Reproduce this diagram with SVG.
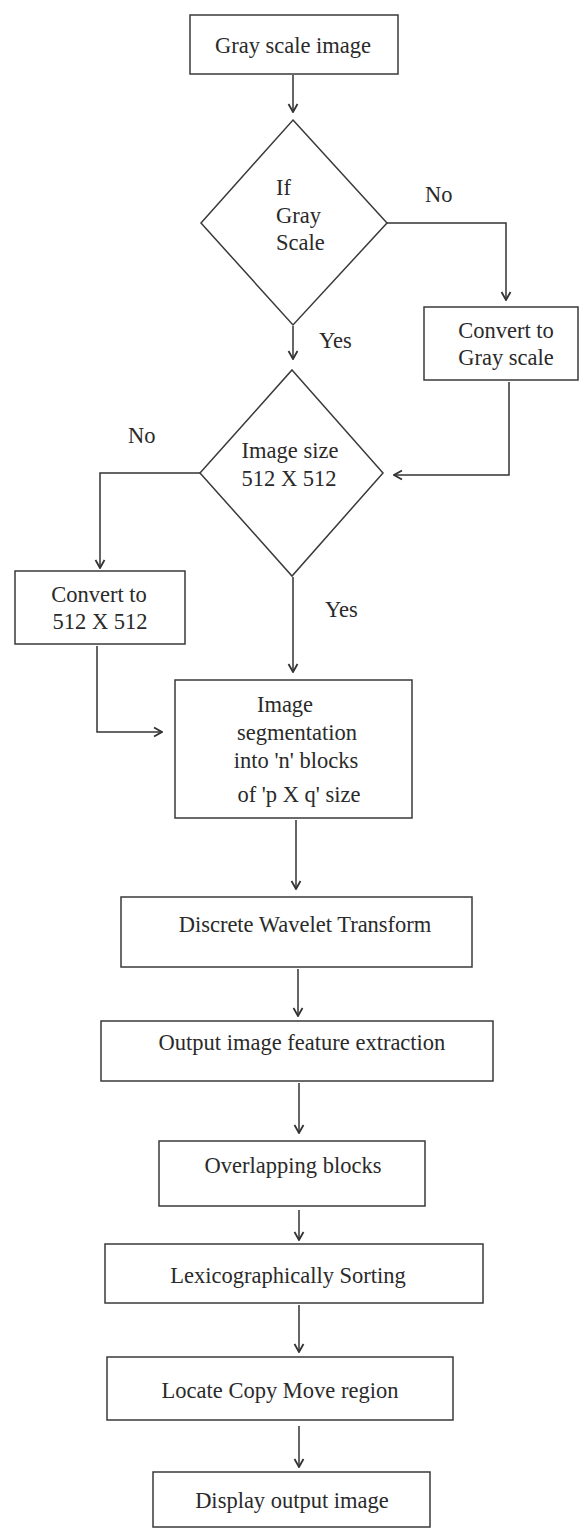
<svg xmlns="http://www.w3.org/2000/svg" width="584" height="1531" viewBox="0 0 584 1531">
<style>
.box{fill:#fff;stroke:#3a3a3a;stroke-width:1.5}
.t{font-family:'Liberation Serif','DejaVu Serif',serif;font-size:22.5px;fill:#2a2a2a;text-anchor:middle}
.ts{font-family:'Liberation Serif','DejaVu Serif',serif;font-size:22.5px;fill:#2a2a2a;text-anchor:start}
.c{fill:none;stroke:#333;stroke-width:1.5}
</style>
<defs>
<marker id="ah" markerUnits="userSpaceOnUse" markerWidth="10" markerHeight="12" viewBox="0 0 10 12" refX="9" refY="6" orient="auto">
<path d="M1,1.5 L9,6 L1,10.5" fill="none" stroke="#333" stroke-width="1.8"/>
</marker>
</defs>
<rect width="584" height="1531" fill="#fff"/>
<g id="connectors">
<path class="c" d="M293,75 V112" marker-end="url(#ah)"/>
<path class="c" d="M387,223 H506 V300" marker-end="url(#ah)"/>
<path class="c" d="M293,326 V359" marker-end="url(#ah)"/>
<path class="c" d="M509,382 V475 H394" marker-end="url(#ah)"/>
<path class="c" d="M200,473 H100 V568" marker-end="url(#ah)"/>
<path class="c" d="M293,577 V672" marker-end="url(#ah)"/>
<path class="c" d="M97,646 V732 H162" marker-end="url(#ah)"/>
<path class="c" d="M296,820 V889" marker-end="url(#ah)"/>
<path class="c" d="M298,969 V1016" marker-end="url(#ah)"/>
<path class="c" d="M299,1083 V1133" marker-end="url(#ah)"/>
<path class="c" d="M299,1210 V1240" marker-end="url(#ah)"/>
<path class="c" d="M299,1305 V1352" marker-end="url(#ah)"/>
<path class="c" d="M299,1426 V1467" marker-end="url(#ah)"/>
<text class="ts" x="425" y="202">No</text>
<text class="ts" x="319" y="348">Yes</text>
<text class="ts" x="128" y="443">No</text>
<text class="ts" x="325" y="617">Yes</text>
</g>
<g id="n-gray-image">
<rect class="box" x="190" y="15" width="208" height="59"/>
<text class="t" x="293" y="53">Gray scale image</text>
</g>
<g id="n-if-gray">
<polygon class="box" points="293,120 387,223 293,325 201,223"/>
<text class="ts" x="276" y="195">If</text>
<text class="ts" x="276" y="223">Gray</text>
<text class="ts" x="276" y="250">Scale</text>
</g>
<g id="n-convert-gray">
<rect class="box" x="424" y="307" width="154" height="73"/>
<text class="t" x="506" y="338">Convert to</text>
<text class="t" x="506" y="365">Gray scale</text>
</g>
<g id="n-size">
<polygon class="box" points="292,370 383,473 292,576 200,473"/>
<text class="t" x="290" y="458">Image size</text>
<text class="t" x="289" y="486">512 X 512</text>
</g>
<g id="n-convert-512">
<rect class="box" x="15" y="571" width="170" height="73"/>
<text class="t" x="99" y="602">Convert to</text>
<text class="t" x="100" y="629">512 X 512</text>
</g>
<g id="n-segmentation">
<rect class="box" x="175" y="680" width="237" height="138"/>
<text class="t" x="285" y="712">Image</text>
<text class="t" x="297" y="740">segmentation</text>
<text class="t" x="296" y="768">into 'n' blocks</text>
<text class="t" x="299" y="802">of 'p X q' size</text>
</g>
<g id="n-dwt">
<rect class="box" x="121" y="897" width="351" height="70"/>
<text class="t" x="305" y="932">Discrete Wavelet Transform</text>
</g>
<g id="n-feature">
<rect class="box" x="101" y="1021" width="392" height="60"/>
<text class="t" x="302" y="1050">Output image feature extraction</text>
</g>
<g id="n-overlap">
<rect class="box" x="159" y="1141" width="266" height="65"/>
<text class="t" x="293" y="1173">Overlapping blocks</text>
</g>
<g id="n-lexico">
<rect class="box" x="105" y="1244" width="378" height="59"/>
<text class="t" x="288" y="1283">Lexicographically Sorting</text>
</g>
<g id="n-locate">
<rect class="box" x="107" y="1357" width="346" height="63"/>
<text class="t" x="280" y="1398">Locate Copy Move region</text>
</g>
<g id="n-display">
<rect class="box" x="153" y="1472" width="277" height="55"/>
<text class="t" x="292" y="1508">Display output image</text>
</g>
</svg>
